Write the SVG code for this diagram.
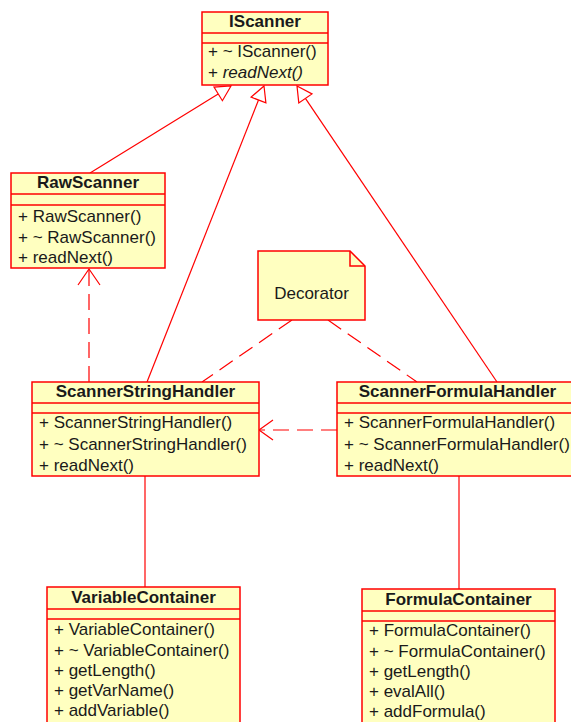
<svg xmlns="http://www.w3.org/2000/svg" width="571" height="722" viewBox="0 0 571 722">
<style>
.box{fill:#ffffc0;stroke:#ff0000;stroke-width:1.5}
.div{stroke:#ff0000;stroke-width:1.5;fill:none}
.t{font-family:"Liberation Sans",Arial,sans-serif;font-size:17px;fill:#1a1a1a}
.b{font-weight:bold;text-anchor:middle}
.i{font-style:italic}
.ln{stroke:#ff0000;stroke-width:1.2;fill:none}
.dash{stroke-dasharray:16,8}
.tri{fill:#ffffff;stroke:#ff0000;stroke-width:1.2}
</style>
<rect width="571" height="722" fill="#ffffff"/>
<g id="connectors">
  <line class="ln" x1="90" y1="173" x2="218.2" y2="93.9"/>
  <polygon class="tri" points="231,86 222.4,100.7 214,87.1"/>
  <line class="ln" x1="147" y1="382" x2="258.5" y2="100"/>
  <polygon class="tri" points="264,86 265.9,102.9 251.1,97.1"/>
  <line class="ln" x1="497" y1="382" x2="305.4" y2="98.4"/>
  <polygon class="tri" points="297,86 312,93.9 298.8,102.9"/>
  <line class="ln dash" x1="89" y1="382" x2="89" y2="270"/>
  <polyline class="ln" points="78,285 89,269 100,285"/>
  <line class="ln dash" x1="337" y1="430" x2="260" y2="430"/>
  <polyline class="ln" points="273,420 259,430 273,440"/>
  <line class="ln dash" x1="292" y1="320" x2="202" y2="382"/>
  <line class="ln dash" x1="328" y1="320" x2="417" y2="382"/>
  <line class="ln" x1="145" y1="476" x2="145" y2="587"/>
  <line class="ln" x1="459" y1="476" x2="459" y2="589"/>
</g>
<g id="IScanner">
  <rect class="box" x="202" y="12" width="126" height="73"/>
  <line class="div" x1="202" y1="33" x2="328" y2="33"/>
  <line class="div" x1="202" y1="43" x2="328" y2="43"/>
  <text class="t b" x="265" y="27">IScanner</text>
  <text class="t" x="208" y="57">+ ~ IScanner()</text>
  <text class="t" x="208" y="78">+ <tspan class="i">readNext()</tspan></text>
</g>
<g id="RawScanner">
  <rect class="box" x="11" y="173" width="154" height="95"/>
  <line class="div" x1="11" y1="194" x2="165" y2="194"/>
  <line class="div" x1="11" y1="205" x2="165" y2="205"/>
  <text class="t b" x="88" y="188">RawScanner</text>
  <text class="t" x="18" y="222">+ RawScanner()</text>
  <text class="t" x="18" y="243">+ ~ RawScanner()</text>
  <text class="t" x="18" y="263">+ readNext()</text>
</g>
<g id="Decorator">
  <path class="box" d="M258,251 H350 L365,266 V320 H258 Z"/>
  <path class="div" d="M350,251 V266 H365"/>
  <text class="t" x="311.5" y="299" text-anchor="middle">Decorator</text>
</g>
<g id="ScannerStringHandler">
  <rect class="box" x="32" y="382" width="227" height="94"/>
  <line class="div" x1="32" y1="403" x2="259" y2="403"/>
  <line class="div" x1="32" y1="413" x2="259" y2="413"/>
  <text class="t b" x="145.5" y="397">ScannerStringHandler</text>
  <text class="t" x="39" y="428">+ ScannerStringHandler()</text>
  <text class="t" x="39" y="450">+ ~ ScannerStringHandler()</text>
  <text class="t" x="39" y="471">+ readNext()</text>
</g>
<g id="ScannerFormulaHandler">
  <rect class="box" x="337" y="382" width="241" height="94"/>
  <line class="div" x1="337" y1="403" x2="578" y2="403"/>
  <line class="div" x1="337" y1="413" x2="578" y2="413"/>
  <text class="t b" x="457.5" y="397">ScannerFormulaHandler</text>
  <text class="t" x="344" y="428">+ ScannerFormulaHandler()</text>
  <text class="t" x="344" y="450">+ ~ ScannerFormulaHandler()</text>
  <text class="t" x="344" y="471">+ readNext()</text>
</g>
<g id="VariableContainer">
  <rect class="box" x="47" y="587" width="193" height="145"/>
  <line class="div" x1="47" y1="609" x2="240" y2="609"/>
  <line class="div" x1="47" y1="619" x2="240" y2="619"/>
  <text class="t b" x="143.5" y="603">VariableContainer</text>
  <text class="t" x="54" y="635">+ VariableContainer()</text>
  <text class="t" x="54" y="656">+ ~ VariableContainer()</text>
  <text class="t" x="54" y="676">+ getLength()</text>
  <text class="t" x="54" y="696">+ getVarName()</text>
  <text class="t" x="54" y="716">+ addVariable()</text>
</g>
<g id="FormulaContainer">
  <rect class="box" x="362" y="589" width="193" height="145"/>
  <line class="div" x1="362" y1="611" x2="555" y2="611"/>
  <line class="div" x1="362" y1="621" x2="555" y2="621"/>
  <text class="t b" x="458.5" y="605">FormulaContainer</text>
  <text class="t" x="369" y="636">+ FormulaContainer()</text>
  <text class="t" x="369" y="657">+ ~ FormulaContainer()</text>
  <text class="t" x="369" y="677">+ getLength()</text>
  <text class="t" x="369" y="697">+ evalAll()</text>
  <text class="t" x="369" y="717">+ addFormula()</text>
</g>
</svg>
